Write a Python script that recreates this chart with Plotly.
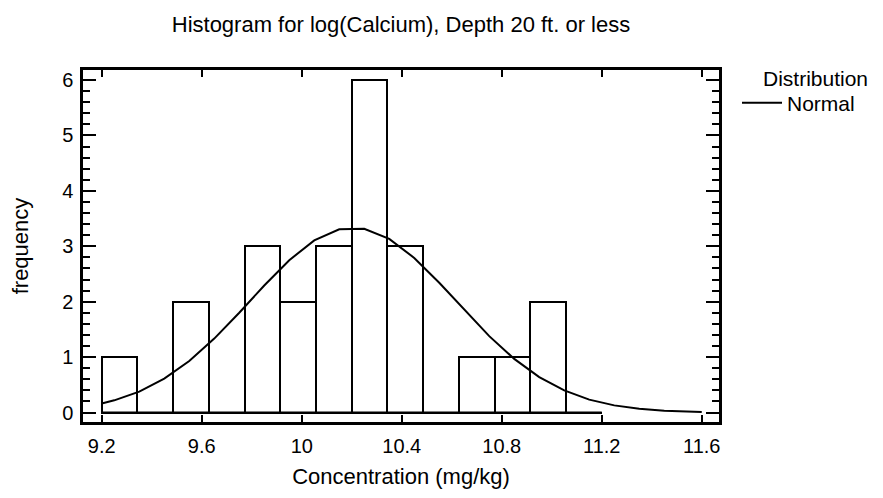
import plotly.graph_objects as go

# ---- data ----
bin_edges = [9.2, 9.342857, 9.485714, 9.628571, 9.771429, 9.914286, 10.057143,
             10.2, 10.342857, 10.485714, 10.628571, 10.771429, 10.914286, 11.057143, 11.2]
frequency = [1, 0, 2, 0, 3, 2, 3, 6, 3, 0, 1, 1, 2, 0]

curve_x = [9.2, 9.25, 9.35, 9.45, 9.55, 9.65, 9.75, 9.85, 9.95, 10.05, 10.15, 10.25,
           10.35, 10.45, 10.55, 10.65, 10.75, 10.85, 10.95, 11.05, 11.15, 11.25,
           11.35, 11.45, 11.55, 11.6]
curve_y = [0.165, 0.221, 0.379, 0.612, 0.931, 1.335, 1.802, 2.293, 2.749, 3.106, 3.306, 3.316,
           3.134, 2.790, 2.342, 1.851, 1.379, 0.968, 0.640, 0.399, 0.234, 0.130,
           0.068, 0.033, 0.015, 0.010]

x_ticks = [9.2, 9.6, 10.0, 10.4, 10.8, 11.2, 11.6]
x_tick_labels = ["9.2", "9.6", "10", "10.4", "10.8", "11.2", "11.6"]
y_ticks = [0, 1, 2, 3, 4, 5, 6]

title_text = "Histogram for log(Calcium), Depth 20 ft. or less"
x_title = "Concentration (mg/kg)"
y_title = "frequency"
legend_title = "Distribution"
curve_name = "Normal"

# ---- derived ----
centers = [(a + b) / 2 for a, b in zip(bin_edges[:-1], bin_edges[1:])]
widths = [b - a for a, b in zip(bin_edges[:-1], bin_edges[1:])]

FONT = "Liberation Sans, Arial, Helvetica, sans-serif"

# page body has an 8px margin, so the figure is 8px smaller than the window
W, H = 875, 490
ML, MR, MT, MB = 75, 164, 62, 76
PLOT_W = W - ML - MR
PLOT_H = H - MT - MB

fig = go.Figure()

# baseline of the histogram (zero-height bins drawn as a flat line)
fig.add_trace(go.Scatter(
    x=[bin_edges[0], bin_edges[-1]], y=[0, 0], mode="lines",
    line=dict(color="black", width=2), showlegend=False, hoverinfo="skip"))

fig.add_trace(go.Bar(
    x=centers, y=frequency, width=widths,
    marker=dict(color="white", line=dict(color="black", width=2)),
    showlegend=False))

fig.add_trace(go.Scatter(
    x=curve_x, y=curve_y, mode="lines", name=curve_name,
    line=dict(color="black", width=2)))

fig.update_layout(
    width=W, height=H,
    margin=dict(l=ML, r=MR, t=MT, b=MB),
    paper_bgcolor="white", plot_bgcolor="white",
    font=dict(family=FONT, color="black", size=22),
    barmode="overlay", bargap=0,
    title=dict(text=title_text, x=0.5, xref="paper", xanchor="center",
               y=1 - 16 / H, yref="container", yanchor="middle",
               font=dict(size=22)),
    legend=dict(x=(729 - ML) / PLOT_W, xanchor="left",
                y=(H - MB - 95) / PLOT_H, yanchor="middle",
                font=dict(size=21), bgcolor="rgba(0,0,0,0)",
                itemwidth=40, tracegroupgap=0),
    showlegend=True,
    annotations=[dict(text=legend_title, xref="paper", yref="paper",
                      x=(753 - ML) / PLOT_W, xanchor="left",
                      y=(H - MB - 71) / PLOT_H, yanchor="middle",
                      showarrow=False, font=dict(size=21))],
)

fig.update_xaxes(
    range=[9.125, 11.669], tickvals=x_ticks, ticktext=x_tick_labels,
    ticks="inside", ticklen=7, tickwidth=2, tickcolor="black",
    showline=True, linewidth=2.5, linecolor="black", mirror="ticks",
    showgrid=False, zeroline=False,
    tickfont=dict(size=20), ticklabelstandoff=4,
    title=dict(text=x_title, font=dict(size=22), standoff=13),
    automargin=False,
)
fig.update_yaxes(
    range=[-0.17, 6.18], tickvals=y_ticks,
    ticks="inside", ticklen=13, tickwidth=2, tickcolor="black",
    minor=dict(dtick=0.2, ticks="inside", ticklen=7, tickwidth=2, tickcolor="black",
               showgrid=False),
    showline=True, linewidth=2.5, linecolor="black", mirror="ticks",
    showgrid=False, zeroline=False,
    tickfont=dict(size=20), ticklabelstandoff=3,
    title=dict(text=y_title, font=dict(size=22), standoff=33),
    automargin=False,
)

fig.write_html("out.html")
